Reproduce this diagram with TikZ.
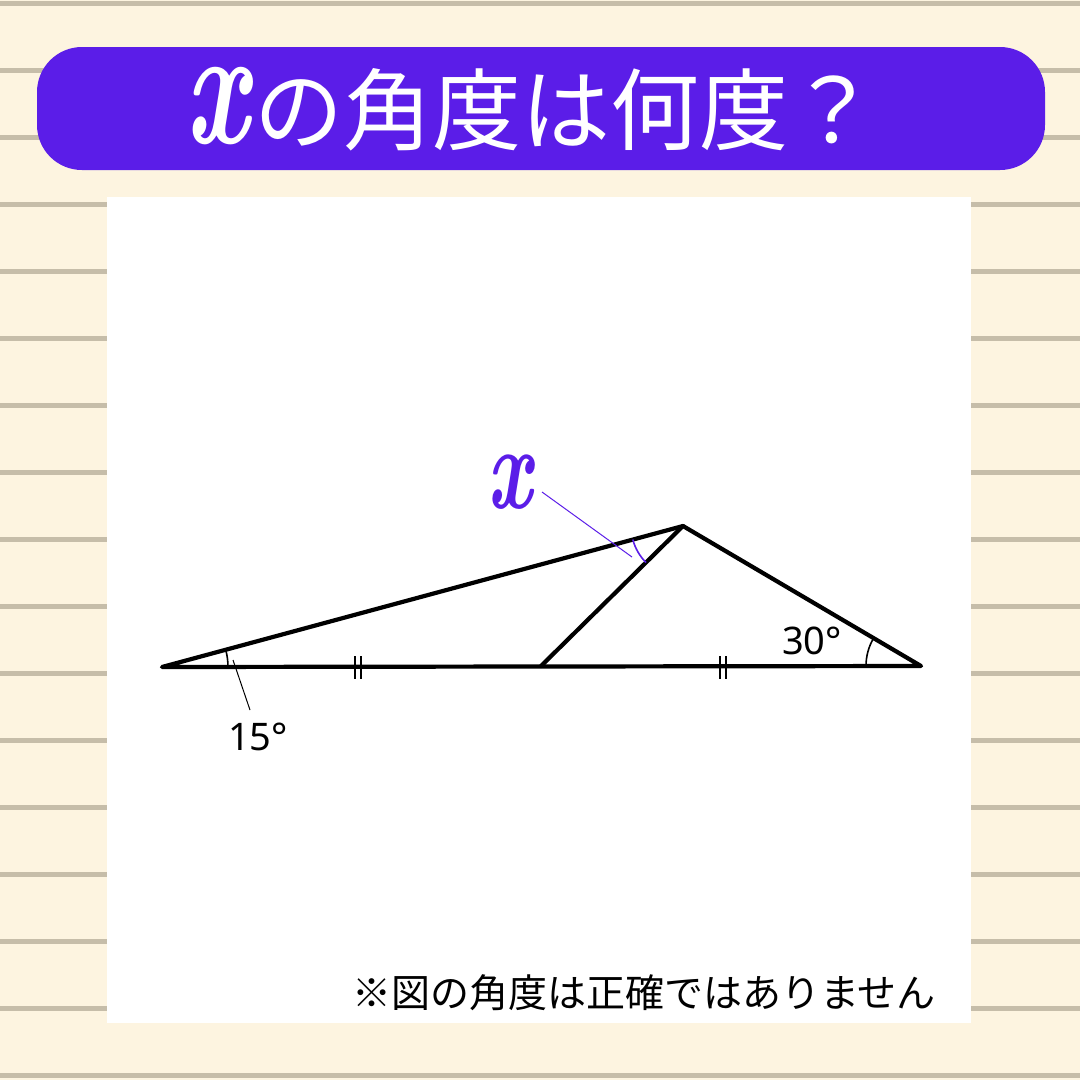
\documentclass[tikz,border=0pt]{standalone}
\usepackage{fontspec}
\usepackage{graphicx}
\newfontfamily\cjk{Noto Sans CJK JP}
\newfontfamily\numfont{Noto Sans}
\definecolor{cream}{HTML}{FDF4E0}
\definecolor{rulecol}{HTML}{C6BDA9}
\definecolor{banner}{HTML}{5B1DE8}
\begin{document}
\begin{tikzpicture}[x=1pt,y=-1pt,line join=round,
  edge/.style={line width=4.2pt,black,line cap=round},
  tickmk/.style={line width=2.2pt,black},
  anglemk/.style={line width=1.6pt,black},
  lead/.style={line width=1pt,black},
  numlabel/.style={font=\numfont\fontsize{38}{38}\selectfont,inner sep=1pt}]
\useasboundingbox (0,0) rectangle (1080,1080);
% background
\fill[cream] (0,0) rectangle (1080,1080);
\foreach \yy in {3,70,...,1075} \fill[rulecol] (0,\yy-2.5) rectangle (1080,\yy+2.5);
% banner
\fill[banner,rounded corners=45pt] (37,47) rectangle (1045,170);
\node[text=white,font=\fontsize{125}{125}\selectfont\bfseries\itshape,inner sep=2pt] (tx) at (217,106) {\scalebox{0.9}[1.35]{x}};
\node[anchor=west,text=white,font=\cjk\fontsize{89}{89}\selectfont,inner sep=0] (title) at (254,110) {の角度は何度？};
% panel
\fill[white] (107,197) rectangle (971,1023);
% triangle
\coordinate (A) at (162,667);
\coordinate (B) at (921,666);
\coordinate (C) at (683,526);
\coordinate (D) at (541,666);
\draw[edge] (A) -- (B) -- (C) -- cycle;
\draw[edge] (D) -- (C);
% equal ticks
\draw[tickmk] (355,656) -- (355,679);
\draw[tickmk] (361,656) -- (361,679);
\draw[tickmk] (720,656) -- (720,679);
\draw[tickmk] (726,656) -- (726,679);
% angle marks
\draw[anglemk] (A) ++(66,0) arc[start angle=0,end angle=-15.1,radius=66];
\draw[anglemk] (B) ++(-55,0) arc[start angle=180,end angle=210.5,radius=55];
\draw[anglemk,banner] (C) ++(135.4:52) arc[start angle=135.4,end angle=164.9,radius=52];
% labels
\node[numlabel] (l15) at (258,737) {15°};
\node[numlabel] (l30) at (812,641) {30°};
\node[text=banner,font=\fontsize{88}{88}\selectfont\bfseries\itshape,inner sep=2pt] (xl) at (510,482) {\scalebox{0.9}[1.35]{x}};
\coordinate (p15a) at (233,660);
\coordinate (p15b) at (250,710);
\draw[lead] (p15a) -- (p15b);
\coordinate (pxa) at (542,492);
\coordinate (pxb) at (632,557);
\draw[lead,banner] (pxa) -- (pxb);
% note
\node[font=\cjk\fontsize{39}{39}\selectfont,inner sep=0] (note) at (644,993) {※図の角度は正確ではありません};
\end{tikzpicture}
\end{document}
